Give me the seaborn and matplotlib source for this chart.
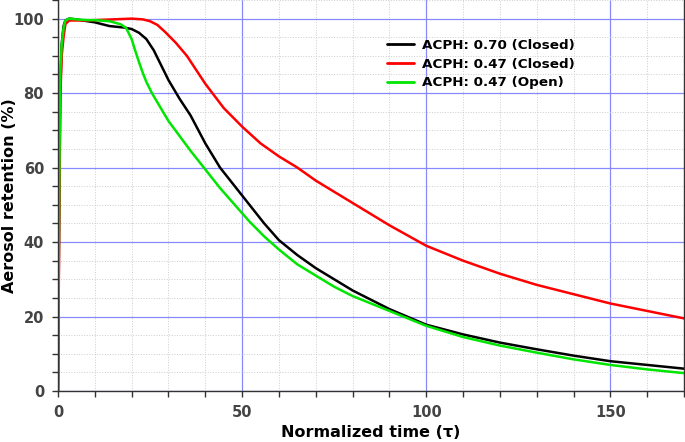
import numpy as np
import pandas as pd
import matplotlib
matplotlib.use("Agg")
import matplotlib.pyplot as plt
import seaborn as sns
from matplotlib.ticker import MultipleLocator

sns.set_theme(style="white")
plt.rcParams['font.family'] = ['DejaVu Sans']

# Normalized time (tau) sample points
t_black = [0, 0.3, 0.6, 1.0, 1.5, 2.0, 3.0, 5.0, 8.0, 10, 14, 18, 20, 22, 24, 26, 28, 30, 33, 36, 40, 44, 48, 52, 56, 60, 65, 70, 75, 80, 90, 100, 110, 120, 130, 140, 150, 160, 170]
v_black = [0, 45, 80, 93, 98, 99.5, 100, 99.8, 99.3, 99, 98, 97.6, 97.2, 96.2, 94.5, 91.5, 87.5, 83.5, 78.5, 74, 66.5, 60, 55, 50, 45, 40.5, 36.5, 33, 30, 27, 22, 17.8, 15.2, 13, 11.2, 9.5, 8.0, 7.0, 6.0]

t_red = [0, 0.3, 0.6, 1.0, 1.5, 2.0, 3.0, 5.0, 8.0, 10, 15, 20, 23, 25, 27, 29, 32, 35, 40, 45, 50, 55, 60, 65, 70, 75, 80, 90, 100, 110, 120, 130, 140, 150, 160, 170]
v_red = [0, 40, 78, 90, 95, 98.5, 99.5, 99.5, 99.5, 99.6, 99.8, 100, 99.8, 99.3, 98.3, 96.5, 93.5, 90, 82.5, 76, 71, 66.5, 63, 60, 56.5, 53.5, 50.5, 44.5, 39, 35, 31.5, 28.5, 26, 23.5, 21.5, 19.5]

t_green = [0, 0.3, 0.6, 1.0, 1.5, 2.0, 3.0, 5.0, 8.0, 10, 14, 17, 18.5, 20, 21, 22, 23, 24, 25.5, 27, 30, 33, 36, 40, 44, 48, 52, 56, 60, 65, 70, 75, 80, 90, 100, 110, 120, 130, 140, 150, 160, 170]
v_green = [3, 50, 85, 93, 97.5, 99.5, 100, 99.8, 99.6, 99.6, 99.3, 98.5, 97.5, 94.5, 91.3, 88.3, 85.5, 83, 80, 77.5, 72.5, 68.5, 64.5, 59.5, 54.5, 50, 45.5, 41.5, 38, 34, 31, 28, 25.5, 21.5, 17.5, 14.5, 12.2, 10.3, 8.5, 7.0, 5.8, 4.8]

labels = ["ACPH: 0.70 (Closed)", "ACPH: 0.47 (Closed)", "ACPH: 0.47 (Open)"]
colors = ["#000000", "#ff0000", "#00e600"]

frames = []
for lab, t, v in zip(labels, [t_black, t_red, t_green], [v_black, v_red, v_green]):
    frames.append(pd.DataFrame({"t": t, "v": v, "series": lab}))
df = pd.concat(frames, ignore_index=True)

fig = plt.figure(figsize=(6.85, 4.42), dpi=100)
ax = fig.add_axes([58/685, 51/442, 626/685, 391/442])

sns.lineplot(data=df, x="t", y="v", hue="series", hue_order=labels,
             palette=colors, linewidth=1.8, ax=ax, sort=True, estimator=None)

ax.set_xlim(0, 170)
ax.set_ylim(0, 105)
ax.xaxis.set_major_locator(MultipleLocator(50))
ax.xaxis.set_minor_locator(MultipleLocator(10))
ax.yaxis.set_minor_locator(MultipleLocator(5))
ax.set_yticks([0, 20, 40, 60, 80, 100])

ax.grid(which="major", color="#8888ff", linewidth=0.9, linestyle="-")
ax.grid(which="minor", color="#cccccc", linewidth=0.7, linestyle=":")
ax.set_axisbelow(True)

for s in ["left", "bottom", "right"]:
    ax.spines[s].set_color("#333333")
    ax.spines[s].set_linewidth(1.0)
ax.spines["top"].set_visible(False)

ax.tick_params(which="both", direction="out", length=4, width=1, color="#333333",
               bottom=True, left=True)
ax.tick_params(which="major", labelsize=10.5, labelcolor="#444444", pad=6)
for lab in ax.get_xticklabels() + ax.get_yticklabels():
    lab.set_fontweight("bold")

ax.set_xlabel("Normalized time (τ)", fontsize=11.5, fontweight="bold", color="black", labelpad=4)
ax.set_ylabel("Aerosol retention (%)", fontsize=11.5, fontweight="bold", color="black")
ax.yaxis.set_label_coords(-0.066, 0.5)

leg = ax.legend(loc="upper left", bbox_to_anchor=(0.525, 0.90), frameon=False,
                prop={"weight": "bold", "size": 9.7}, handlelength=2.0,
                labelspacing=0.42, handletextpad=0.65, borderaxespad=0, borderpad=0)
for line in leg.get_lines():
    line.set_linewidth(2)
for txt in leg.get_texts():
    txt.set_color("black")

fig.savefig("out.png", dpi=100)
